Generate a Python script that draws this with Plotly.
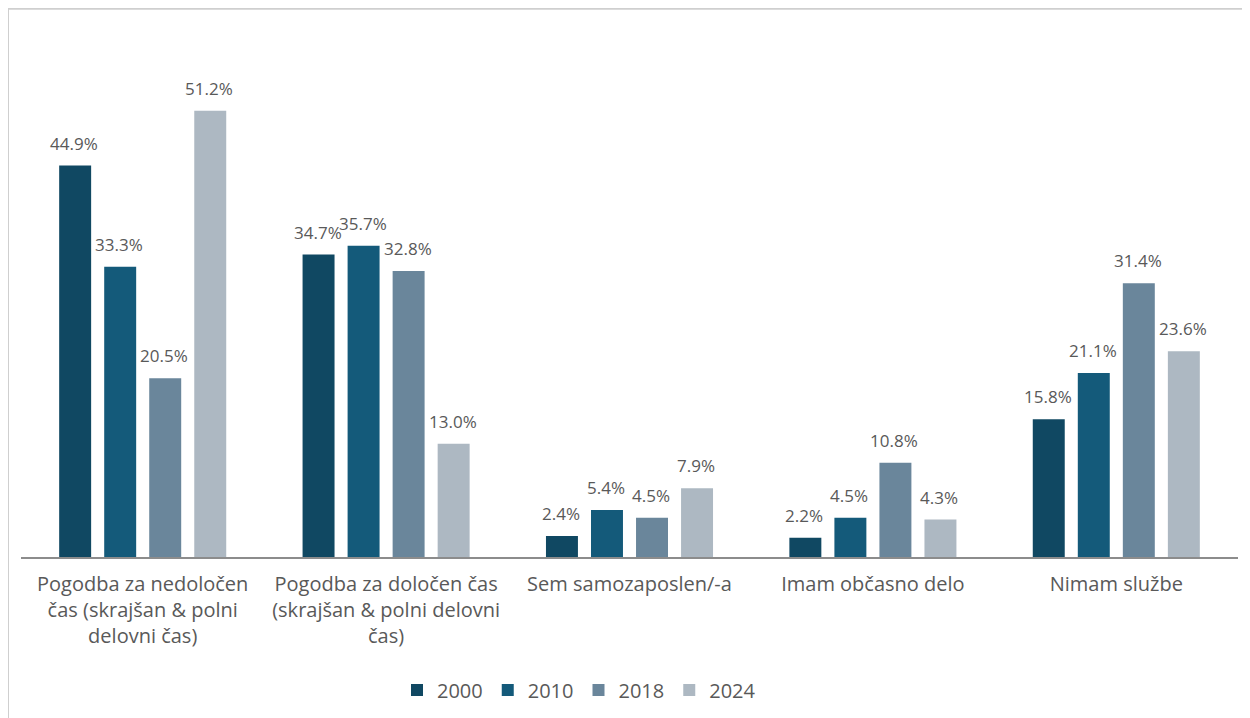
import plotly.graph_objects as go

categories = [
    "Pogodba za nedoločen<br>čas (skrajšan & polni<br>delovni čas)",
    "Pogodba za določen čas<br>(skrajšan & polni delovni<br>čas)",
    "Sem samozaposlen/-a",
    "Imam občasno delo",
    "Nimam službe",
]
years = ["2000", "2010", "2018", "2024"]
v2000 = [44.9, 34.7, 2.4, 2.2, 15.8]
v2010 = [33.3, 35.7, 5.4, 4.5, 21.1]
v2018 = [20.5, 32.8, 4.5, 10.8, 31.4]
v2024 = [51.2, 13.0, 7.9, 4.3, 23.6]
series = [v2000, v2010, v2018, v2024]
colors = ["#104862", "#145a7a", "#6a869b", "#adb8c2"]

OFF = 8  # page body margin
W, H = 1250 - OFF, 718 - OFF
L = 21 - OFF
plot_right = 1238 - OFF
R = W - plot_right
base_px = 557 - OFF
ymax = 60
px_per = 446 / 51.2
plot_h = ymax * px_per
T = base_px - plot_h
B = H - base_px
plot_w = W - L - R
BARGAP = 0.26
BARGROUPGAP = 0.29

fig = go.Figure()
for name, vals, col in zip(years, series, colors):
    fig.add_trace(go.Bar(
        name=name, x=categories, y=vals,
        marker=dict(color=col, line=dict(width=0)),
    ))

# value labels, placed above each grouped bar
cat_w = plot_w / len(categories)
slot = cat_w * (1 - BARGAP) / len(series)
annotations = []
for i, vals in enumerate(series):
    dx = (i - (len(series) - 1) / 2) * slot
    for c, v in zip(categories, vals):
        annotations.append(dict(
            x=c, y=v, xref="x", yref="y", text=f"{v:.1f}%",
            showarrow=False, xanchor="center", yanchor="bottom",
            xshift=dx - 1, yshift=9,
            font=dict(size=17, color="#595959", family="Open Sans"),
        ))

def px_x(p):
    return (p - OFF - L) / plot_w

def px_y(p):
    return (base_px - (p - OFF)) / plot_h

fig.update_layout(
    width=W, height=H,
    margin=dict(l=L, r=R, t=T, b=B, autoexpand=False),
    paper_bgcolor="white", plot_bgcolor="white",
    barmode="group", bargap=BARGAP, bargroupgap=BARGROUPGAP,
    font=dict(family="Open Sans", color="#595959"),
    showlegend=True,
    legend=dict(orientation="h", x=px_x(579), xanchor="center",
                y=px_y(690), yanchor="middle",
                font=dict(size=20, color="#595959"),
                itemsizing="constant", traceorder="normal"),
    xaxis=dict(showline=True, linecolor="#8c8c8c", linewidth=2,
               tickfont=dict(size=20, color="#595959"), ticks="",
               ticklabelstandoff=8, showgrid=False),
    yaxis=dict(range=[0, ymax], visible=False, showgrid=False, zeroline=False),
    annotations=annotations,
    shapes=[
        dict(type="line", xref="paper", yref="paper",
             x0=px_x(8), x1=px_x(8), y0=px_y(8), y1=px_y(730),
             line=dict(color="#cfcfcf", width=2)),
        dict(type="line", xref="paper", yref="paper",
             x0=px_x(8), x1=px_x(1250), y0=px_y(9), y1=px_y(9),
             line=dict(color="#cfcfcf", width=2)),
    ],
)

fig.write_html("out.html")
